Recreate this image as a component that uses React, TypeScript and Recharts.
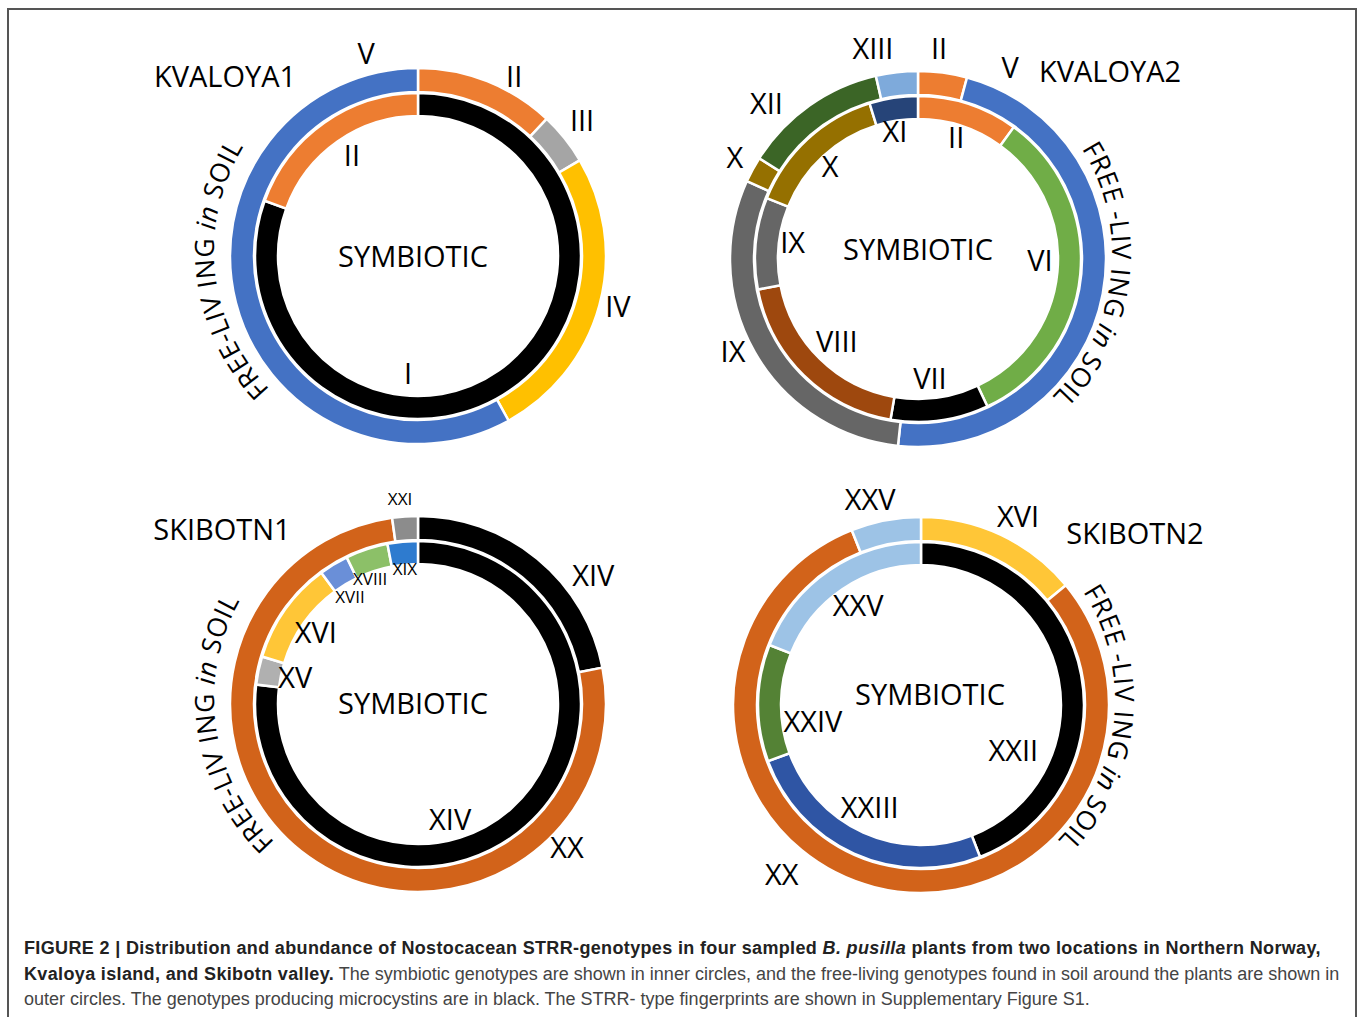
import React from "react";
import { PieChart, Pie, Cell } from "recharts";

// genotype colours (same genotype keeps its colour across plants)
const genotypeColors: Record<string, string> = {
  I: "#000000",
  II: "#ED7D31",
  III: "#A5A5A5",
  IV: "#FFC000",
  V: "#4472C4",
  VI: "#70AD47",
  VII: "#000000",
  VIII: "#9E480E",
  IX: "#666666",
  X: "#957000",
  XI: "#264478",
  XII: "#3B6526",
  XIII: "#7EAADB",
  XIV: "#000000",
  XV: "#B0B0B0",
  XVI: "#FFC637",
  XVII: "#6A8FD8",
  XVIII: "#8CC068",
  XIX: "#2E7BCF",
  XX: "#D2631A",
  XXI: "#8C8C8C",
  XXII: "#000000",
  XXIII: "#2F55A4",
  XXIV: "#548235",
  XXV: "#9DC3E6",
};

// KVALOYA1
const kv1OuterNames = ["II", "III", "IV", "V"];
const kv1OuterValues = [12, 4.5, 25.5, 58];
const kv1InnerNames = ["I", "II"];
const kv1InnerValues = [80.5, 19.5];

// KVALOYA2
const kv2OuterNames = ["II", "V", "IX", "X", "XII", "XIII"];
const kv2OuterValues = [4.2, 47.5, 30.1, 2.2, 12.4, 3.6];
const kv2InnerNames = ["II", "VI", "VII", "VIII", "IX", "X", "XI"];
const kv2InnerValues = [10, 33, 9.7, 19.3, 9.1, 14.1, 4.8];

// SKIBOTN1
const sk1OuterNames = ["XIV", "XX", "XXI"];
const sk1OuterValues = [21.9, 75.9, 2.2];
const sk1InnerNames = ["XIV", "XV", "XVI", "XVII", "XVIII", "XIX"];
const sk1InnerValues = [76.9, 2.8, 10.2, 2.9, 4.2, 3.0];

// SKIBOTN2
const sk2OuterNames = ["XVI", "XX", "XXV"];
const sk2OuterValues = [14, 80, 6];
const sk2InnerNames = ["XXII", "XXIII", "XXIV", "XXV"];
const sk2InnerValues = [44.1, 25.3, 11.6, 19.0];

const FONT = "'Open Sans', 'Noto Sans', sans-serif";
const LBL = 29;
const SMALL = 17;

const toRows = (names: string[], values: number[]) =>
  names.map((name, i) => ({ name, value: values[i] }));

// label anchor per slice: [angle clockwise from top (deg), radius, font size]
type Layout = [number, number, number][];

const makeLabel =
  (cx: number, cy: number, names: string[], layout: Layout) => (props: any) => {
    const [ang, r, fs] = layout[props.index];
    const a = (ang * Math.PI) / 180;
    return (
      <text
        key={`l-${props.index}`}
        x={cx + r * Math.sin(a)}
        y={cy - r * Math.cos(a)}
        textAnchor="middle"
        dominantBaseline="central"
        fontSize={fs}
        fontFamily={FONT}
        fill="#000"
      >
        {names[props.index]}
      </text>
    );
  };

const R_OUT = [164, 188];
const R_IN = [140, 163];

interface DonutProps {
  id: string;
  cx: number;
  cy: number;
  outerNames: string[];
  outerValues: number[];
  innerNames: string[];
  innerValues: number[];
  outerLayout: Layout;
  innerLayout: Layout;
}

const donuts: DonutProps[] = [
  {
    id: "kv1",
    cx: 413,
    cy: 251,
    outerNames: kv1OuterNames,
    outerValues: kv1OuterValues,
    innerNames: kv1InnerNames,
    innerValues: kv1InnerValues,
    outerLayout: [
      [29.9, 203, LBL],
      [52.2, 214, LBL],
      [104.8, 212, LBL],
      [346.7, 204, LBL],
    ],
    innerLayout: [
      [182.3, 122, LBL],
      [327.6, 114, LBL],
    ],
  },
  {
    id: "kv2",
    cx: 913,
    cy: 254,
    outerNames: kv2OuterNames,
    outerValues: kv2OuterValues,
    innerNames: kv2InnerNames,
    innerValues: kv2InnerValues,
    outerLayout: [
      [7.2, 208, LBL],
      [27.4, 211, LBL],
      [241.9, 204, LBL],
      [298.6, 203, LBL],
      [316, 211, LBL],
      [349, 210, LBL],
    ],
    innerLayout: [
      [20.2, 125, LBL],
      [92.3, 127, LBL],
      [172.2, 125, LBL],
      [221.5, 115, LBL],
      [275.7, 121, LBL],
      [316.7, 121, LBL],
      [351.7, 125, LBL],
    ],
  },
  {
    id: "sk1",
    cx: 413,
    cy: 699,
    outerNames: sk1OuterNames,
    outerValues: sk1OuterValues,
    innerNames: sk1InnerNames,
    innerValues: sk1InnerValues,
    outerLayout: [
      [55.4, 219, LBL],
      [133.7, 213, LBL],
      [356.3, 201, SMALL],
    ],
    innerLayout: [
      [162.7, 125, LBL],
      [281, 120, LBL],
      [304.6, 118, LBL],
      [328.3, 120, SMALL],
      [340.4, 128, SMALL],
      [356.5, 131, SMALL],
    ],
  },
  {
    id: "sk2",
    cx: 916,
    cy: 700,
    outerNames: sk2OuterNames,
    outerValues: sk2OuterValues,
    innerNames: sk2InnerNames,
    innerValues: sk2InnerValues,
    outerLayout: [
      [28.9, 211, LBL],
      [217.8, 219, LBL],
      [347.2, 207, LBL],
    ],
    innerLayout: [
      [116.8, 109, LBL],
      [203.5, 116, LBL],
      [259, 105, LBL],
      [328.9, 112, LBL],
    ],
  },
];

// titles, centre text and curved soil text
const titles = [
  { text: "KVALOYA1", x: 225, y: 75 },
  { text: "KVALOYA2", x: 1110, y: 70 },
  { text: "SKIBOTN1", x: 222, y: 528 },
  { text: "SKIBOTN2", x: 1135, y: 532 },
];
const centres = [
  { x: 413, y: 255 },
  { x: 918, y: 248 },
  { x: 413, y: 702 },
  { x: 930, y: 693 },
];
const soilText = [
  { cx: 413, cy: 251, start: 226, first: "FREE-LIV ING " },
  { cx: 913, cy: 254, start: 58, first: "FREE -LIV ING " },
  { cx: 413, cy: 699, start: 224, first: "FREE-LIV ING " },
  { cx: 916, cy: 700, start: 57, first: "FREE -LIV ING " },
];

const arcPath = (cx: number, cy: number, r: number, a0: number, a1: number) => {
  const p = (a: number) => {
    const t = (a * Math.PI) / 180;
    return `${cx + r * Math.sin(t)} ${cy - r * Math.cos(t)}`;
  };
  return `M ${p(a0)} A ${r} ${r} 0 0 1 ${p(a1)}`;
};

export default function App() {
  return (
    <div
      style={{
        position: "absolute",
        left: 0,
        top: 0,
        width: 1357,
        height: 1017,
        overflow: "hidden",
        background: "#fff",
      }}
    >
      <div
        style={{
          position: "absolute",
          left: 7,
          top: 8,
          width: 1346,
          height: 1060,
          border: "2px solid #555",
        }}
      />
      <div style={{ position: "absolute", left: 0, top: 0 }}>
        <PieChart width={1357} height={900}>
          {donuts.flatMap((d) => [
            <Pie
              key={`${d.id}-out`}
              data={toRows(d.outerNames, d.outerValues)}
              dataKey="value"
              nameKey="name"
              cx={d.cx}
              cy={d.cy}
              innerRadius={R_OUT[0]}
              outerRadius={R_OUT[1]}
              startAngle={90}
              endAngle={-270}
              stroke="#fff"
              strokeWidth={2.5}
              label={makeLabel(d.cx, d.cy, d.outerNames, d.outerLayout)}
              labelLine={false}
              isAnimationActive={false}
            >
              {d.outerNames.map((n, i) => (
                <Cell key={i} fill={genotypeColors[n]} />
              ))}
            </Pie>,
            <Pie
              key={`${d.id}-in`}
              data={toRows(d.innerNames, d.innerValues)}
              dataKey="value"
              nameKey="name"
              cx={d.cx}
              cy={d.cy}
              innerRadius={R_IN[0]}
              outerRadius={R_IN[1]}
              startAngle={90}
              endAngle={-270}
              stroke="#fff"
              strokeWidth={2.5}
              label={makeLabel(d.cx, d.cy, d.innerNames, d.innerLayout)}
              labelLine={false}
              isAnimationActive={false}
            >
              {d.innerNames.map((n, i) => (
                <Cell key={i} fill={genotypeColors[n]} />
              ))}
            </Pie>,
          ])}
        </PieChart>
      </div>
      <svg
        width={1357}
        height={900}
        style={{ position: "absolute", left: 0, top: 0, pointerEvents: "none" }}
      >
        <defs>
          {soilText.map((s, i) => (
            <path
              key={i}
              id={`soil-${i}`}
              d={arcPath(s.cx, s.cy, 199, s.start, s.start + 110)}
              fill="none"
            />
          ))}
        </defs>
        {titles.map((t) => (
          <text
            key={t.text}
            x={t.x}
            y={t.y}
            textAnchor="middle"
            dominantBaseline="central"
            fontSize={LBL}
            fontFamily={FONT}
            fill="#000"
          >
            {t.text}
          </text>
        ))}
        {centres.map((c, i) => (
          <text
            key={i}
            x={c.x}
            y={c.y}
            textAnchor="middle"
            dominantBaseline="central"
            fontSize={LBL}
            fontFamily={FONT}
            fill="#000"
          >
            SYMBIOTIC
          </text>
        ))}
        {soilText.map((s, i) => (
          <text key={i} fontSize={26.5} letterSpacing={0.6} fontFamily={FONT} fill="#000">
            <textPath href={`#soil-${i}`}>
              {s.first}
              <tspan fontStyle="italic">in</tspan> SOIL
            </textPath>
          </text>
        ))}
      </svg>
      <div
        style={{
          position: "absolute",
          left: 24,
          top: 936,
          fontFamily: "'Liberation Sans', Arial, sans-serif",
          fontSize: 18,
          lineHeight: "25.5px",
          color: "#444",
          whiteSpace: "nowrap",
        }}
      >
        <b style={{ color: "#222", letterSpacing: 0.35 }}>
          FIGURE 2 | Distribution and abundance of Nostocacean STRR-genotypes in four sampled{" "}
          <i>B. pusilla</i> plants from two locations in Northern Norway,
        </b>
        <br />
        <b style={{ color: "#222", letterSpacing: 0.35 }}>Kvaloya island, and Skibotn valley.</b>{" "}
        The symbiotic genotypes are shown in inner circles, and the free-living genotypes found in
        soil around the plants are shown in
        <br />
        outer circles. The genotypes producing microcystins are in black. The STRR- type
        fingerprints are shown in Supplementary Figure S1.
      </div>
    </div>
  );
}
